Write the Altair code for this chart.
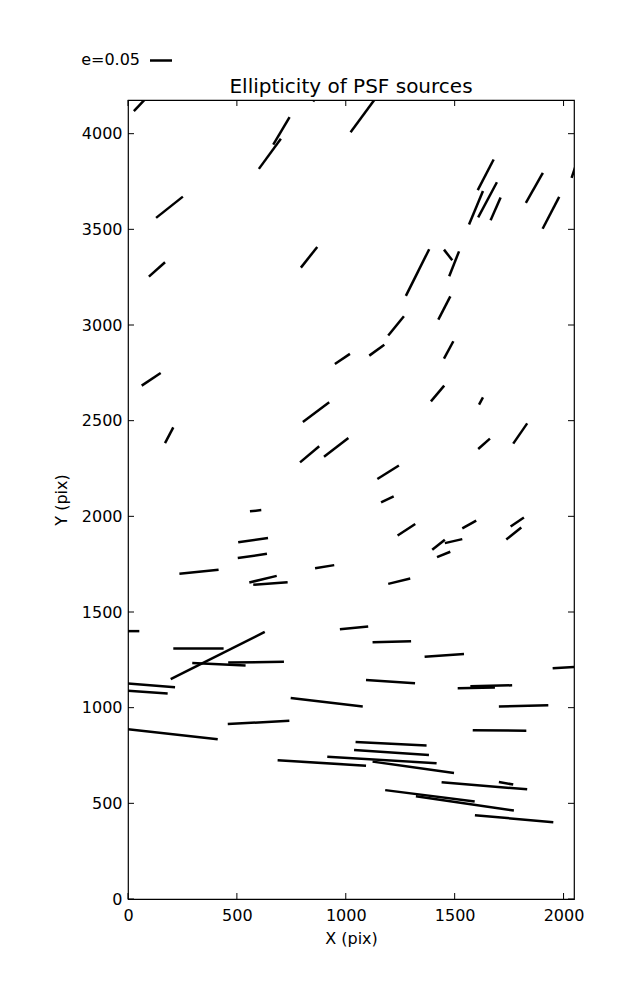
import altair as alt
import pandas as pd

# Whisker segments (data units, pix): start and end points
x_start = [27, 850, 667, 601, 129, 96, 794, 1022, 1606, 1566, 1608, 1665, 1827, 1904, 2037,
           1276, 1451, 1475, 1425, 63, 170, 950, 803, 790, 900, 1195, 1108, 1451, 1391, 1612,
           1608, 1769, 1145, 1162, 1238, 1535, 1757, 1737, 1397, 1455, 1419, 1195, 973, 1123,
           1362, 1950, 1093, 1514, 1572, 560, 506, 504, 236, 557, 575, 859, -20, 208, 196,
           295, 460, -30, -20, 747, -20, 458, 687, 915, 1703, 1583, 1045, 1038, 1123, 1440,
           1703, 1181, 1322, 1593]
y_start = [4118, 4168, 3943, 3816, 3560, 3253, 3300, 4008, 3705, 3525, 3563, 3548, 3638, 3503, 3769,
           3152, 3394, 3255, 3028, 2683, 2383, 2796, 2493, 2282, 2312, 2945, 2840, 2824, 2601, 2584,
           2352, 2380, 2195, 2073, 1900, 1937, 1947, 1879, 1825, 1860, 1787, 1647, 1410, 1342,
           1266, 1206, 1144, 1102, 1112, 2026, 1864, 1782, 1700, 1654, 1642, 1729, 1400, 1309, 1149,
           1233, 1236, 1129, 1090, 1050, 890, 915, 725, 743, 1006, 882, 820, 779, 718, 610,
           612, 569, 537, 438]
x_end = [95, 890, 742, 702, 252, 170, 869, 1140, 1679, 1630, 1694, 1711, 1905, 1980, 2075,
         1383, 1489, 1520, 1480, 150, 208, 1019, 924, 878, 1012, 1267, 1177, 1494, 1452, 1630,
         1662, 1833, 1244, 1220, 1319, 1599, 1818, 1806, 1455, 1535, 1480, 1296, 1103, 1300,
         1543, 2070, 1318, 1685, 1764, 612, 643, 638, 416, 683, 733, 947, 52, 439, 628,
         540, 716, 216, 182, 1078, 412, 741, 1093, 1417, 1930, 1829, 1371, 1382, 1497, 1833,
         1769, 1592, 1772, 1953]
y_end = [4200, 4240, 4086, 3973, 3671, 3328, 3408, 4190, 3865, 3700, 3746, 3666, 3795, 3670, 3900,
         3396, 3338, 3385, 3150, 2749, 2465, 2849, 2596, 2366, 2410, 3046, 2897, 2915, 2683, 2622,
         2406, 2486, 2266, 2104, 1960, 1978, 1994, 1942, 1878, 1881, 1815, 1675, 1424, 1347,
         1281, 1214, 1128, 1105, 1117, 2033, 1887, 1804, 1721, 1689, 1656, 1745, 1400, 1309, 1396,
         1220, 1240, 1107, 1074, 1006, 835, 931, 697, 710, 1013, 880, 802, 753, 659, 573,
         598, 509, 462, 401]

x_ticks = [0, 500, 1000, 1500, 2000]
y_ticks = [0, 500, 1000, 1500, 2000, 2500, 3000, 3500, 4000]

X_MAX = 2048
Y_MAX = 4176
W, H = 446, 799
TICK = 6
FONT = "DejaVu Sans"

df = pd.DataFrame({"x": x_start, "y": y_start, "x2": x_end, "y2": y_end})
xs = alt.Scale(domain=[0, X_MAX], nice=False, zero=False)
ys = alt.Scale(domain=[0, Y_MAX], nice=False, zero=False)
x_axis = alt.Axis(title="X (pix)", values=x_ticks, format="d", labelFlush=False,
                  labelPadding=8, titlePadding=7,
                  grid=False, domain=False, ticks=False)
y_axis = alt.Axis(title="Y (pix)", values=y_ticks, format="d", labelFlush=False,
                  labelPadding=6, titlePadding=12,
                  grid=False, domain=False, ticks=False)

whiskers = alt.Chart(df).mark_rule(color="black", strokeWidth=2.5, strokeCap="butt", clip=True).encode(
    x=alt.X("x:Q", scale=xs, axis=x_axis),
    y=alt.Y("y:Q", scale=ys, axis=y_axis),
    x2="x2:Q",
    y2="y2:Q",
)

xt = pd.DataFrame({"x": x_ticks})
yt = pd.DataFrame({"y": y_ticks})
tick_style = dict(color="black", strokeWidth=1)

bottom_ticks = alt.Chart(xt).mark_rule(**tick_style).encode(
    x=alt.X("x:Q", scale=xs, axis=x_axis), y=alt.value(H), y2=alt.value(H - TICK))
top_ticks = alt.Chart(xt).mark_rule(**tick_style).encode(
    x=alt.X("x:Q", scale=xs, axis=x_axis), y=alt.value(0), y2=alt.value(TICK))
left_ticks = alt.Chart(yt).mark_rule(**tick_style).encode(
    y=alt.Y("y:Q", scale=ys, axis=y_axis), x=alt.value(0), x2=alt.value(TICK))
right_ticks = alt.Chart(yt).mark_rule(**tick_style).encode(
    y=alt.Y("y:Q", scale=ys, axis=y_axis), x=alt.value(W), x2=alt.value(W - TICK))

legend_label = ["e=0.05"]
legend_line = alt.Chart(pd.DataFrame({"t": legend_label})).mark_rule(
    color="black", strokeWidth=2.5).encode(
    x=alt.value(22), x2=alt.value(44), y=alt.value(-39.5))
legend_text = alt.Chart(pd.DataFrame({"t": legend_label})).mark_text(
    align="right", baseline="alphabetic", font=FONT, fontSize=16, color="black").encode(
    x=alt.value(12), y=alt.value(-35), text="t:N")

title_text = ["Ellipticity of PSF sources"]
title = alt.Chart(pd.DataFrame({"t": title_text})).mark_text(
    align="center", baseline="alphabetic", font=FONT, fontSize=20, color="black").encode(
    x=alt.value(W / 2), y=alt.value(-7), text="t:N")

chart = alt.layer(
    whiskers, bottom_ticks, top_ticks, left_ticks, right_ticks, legend_line, legend_text, title
).properties(
    width=W, height=H,
    autosize=alt.AutoSizeParams(type="none"),
    padding={"left": 120, "top": 92, "right": 40, "bottom": 70},
).configure_view(
    stroke="black", strokeWidth=1.2
).configure_axis(
    labelFont=FONT, labelFontSize=16, labelColor="black",
    titleFont=FONT, titleFontSize=16, titleFontWeight="normal", titleColor="black",
)

chart.save("out.html", embed_options={"renderer": "svg", "actions": False})
